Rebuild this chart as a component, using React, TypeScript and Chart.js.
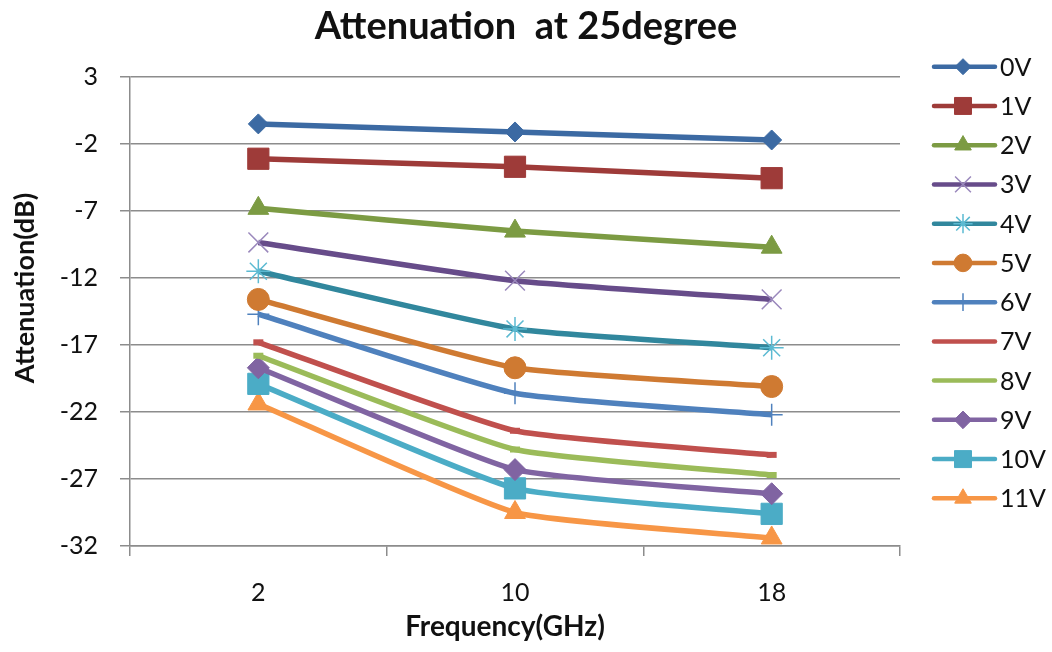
import React, { useEffect, useRef } from 'react';
import { Chart, registerables } from 'chart.js';
import { drawPoint } from 'chart.js/helpers';

Chart.register(...registerables);

const categories = ['2', '10', '18'];
const yTickValues = [-32, -27, -22, -17, -12, -7, -2, 3];

const seriesNames = ['0V', '1V', '2V', '3V', '4V', '5V', '6V', '7V', '8V', '9V', '10V', '11V'];
const s0V = [-0.5, -1.1, -1.7];
const s1V = [-3.1, -3.7, -4.55];
const s2V = [-6.8, -8.5, -9.7];
const s3V = [-9.35, -12.2, -13.6];
const s4V = [-11.5, -15.8, -17.2];
const s5V = [-13.6, -18.7, -20.1];
const s6V = [-14.7, -20.6, -22.2];
const s7V = [-16.8, -23.4, -25.2];
const s8V = [-17.8, -24.8, -26.7];
const s9V = [-18.7, -26.3, -28.1];
const s10V = [-19.9, -27.7, -29.6];
const s11V = [-21.4, -29.5, -31.4];
const seriesValues = [s0V, s1V, s2V, s3V, s4V, s5V, s6V, s7V, s8V, s9V, s10V, s11V];

const lineColors = ['#3C6AA3', '#9E3B39', '#7C9B43', '#674C8A', '#31879D', '#CF7A32', '#4F81BD', '#C0504D', '#9BBB59', '#8064A2', '#4BACC6', '#F79646'];
const markerColors = ['#3C6AA3', '#9E3B39', '#7C9B43', '#9A88BC', '#5BBAD2', '#CF7A32', '#4F81BD', '#C0504D', '#9BBB59', '#8064A2', '#4BACC6', '#F79646'];
const pointStyles = ['rectRot', 'rect', 'triangle', 'crossRot', 'star', 'circle', 'cross', 'line', 'line', 'rectRot', 'rect', 'triangle'];
const pointRadii = [10, 15, 12, 14, 12, 11, 11, 5, 5, 11, 15, 12];
const pointBorders = [1, 1, 1, 1.5, 1.5, 1, 1.5, 6, 6, 1, 1, 1];

const FONT = 'Lato, "Noto Sans", sans-serif';

const overlayPlugin = {
  id: 'overlay',
  afterDraw(chart: any) {
    const ctx = chart.ctx as CanvasRenderingContext2D;
    ctx.save();
    ctx.fillStyle = '#111';
    // title
    ctx.font = `bold 38px ${FONT}`;
    ctx.textAlign = 'center';
    ctx.textBaseline = 'alphabetic';
    ctx.fillText('Attenuation  at 25degree', 526, 39);
    // x title
    ctx.font = `bold 28px ${FONT}`;
    ctx.fillText('Frequency(GHz)', 505, 636);
    // y title
    ctx.save();
    ctx.font = `bold 27px ${FONT}`;
    ctx.translate(34, 288);
    ctx.rotate(-Math.PI / 2);
    ctx.textBaseline = 'alphabetic';
    ctx.fillText('Attenuation(dB)', 0, 0);
    ctx.restore();
    // legend
    ctx.font = `25px ${FONT}`;
    ctx.textAlign = 'left';
    for (let i = 0; i < seriesNames.length; i++) {
      const y = 66.7 + i * 39.24;
      ctx.strokeStyle = lineColors[i];
      ctx.lineWidth = 4.5;
      ctx.lineCap = 'round';
      ctx.beginPath();
      ctx.moveTo(934, y);
      ctx.lineTo(995, y);
      ctx.stroke();
      const st = pointStyles[i];
      if (st !== 'line') {
        ctx.fillStyle = markerColors[i];
        ctx.strokeStyle = markerColors[i];
        ctx.lineWidth = pointBorders[i];
        ctx.lineCap = 'butt';
        drawPoint(ctx, { pointStyle: st, rotation: 0, radius: pointRadii[i] * 0.8, borderWidth: pointBorders[i] } as any, 963, y);
      }
      ctx.fillStyle = '#111';
      ctx.fillText(seriesNames[i], 1000, y + 9);
    }
    ctx.restore();
  },
};

export default function App() {
  const ref = useRef<HTMLCanvasElement>(null);
  useEffect(() => {
    if (!ref.current) return;
    const datasets = seriesNames.map((name, i) => ({
      label: name,
      data: seriesValues[i],
      borderColor: lineColors[i],
      backgroundColor: markerColors[i],
      borderWidth: 5.5,
      tension: 0.15,
      pointStyle: pointStyles[i] as any,
      pointRadius: pointRadii[i],
      pointHoverRadius: pointRadii[i],
      pointBackgroundColor: markerColors[i],
      pointBorderColor: markerColors[i],
      pointBorderWidth: pointBorders[i],
    }));
    const chart = new Chart(ref.current, {
      type: 'line',
      data: { labels: categories, datasets },
      plugins: [overlayPlugin],
      options: {
        responsive: false,
        animation: false,
        devicePixelRatio: 1,
        layout: { padding: { top: 77, left: 0, right: 152, bottom: 0 } },
        font: { family: FONT },
        plugins: {
          legend: { display: false },
          title: { display: false },
          tooltip: { enabled: false },
        },
        scales: {
          x: {
            type: 'category',
            offset: true,
            grid: { offset: true, drawOnChartArea: false, drawTicks: true, tickLength: 10, color: '#8c8c8c', lineWidth: 1.5 },
            border: { display: true, color: '#8c8c8c', width: 1.5 },
            ticks: { color: '#111', font: { family: FONT, size: 25 }, padding: 22, maxRotation: 0 },
            afterFit: (s: any) => { s.height = 106; },
          },
          y: {
            type: 'linear',
            min: -32,
            max: 3,
            afterBuildTicks: (s: any) => { s.ticks = yTickValues.map((v) => ({ value: v })); },
            grid: { color: '#8c8c8c', lineWidth: 1.5, tickLength: 10, drawTicks: true },
            border: { display: true, color: '#8c8c8c', width: 1.5 },
            ticks: { color: '#111', font: { family: FONT, size: 25 }, padding: 22 },
            afterFit: (s: any) => { s.width = 130; },
          },
        },
      },
    });
    return () => chart.destroy();
  }, []);
  return (
    <div style={{ position: 'fixed', left: 0, top: 0, width: 1052, height: 652, background: '#fff' }}>
      <canvas ref={ref} width={1052} height={652} style={{ width: 1052, height: 652, display: 'block' }} />
    </div>
  );
}
